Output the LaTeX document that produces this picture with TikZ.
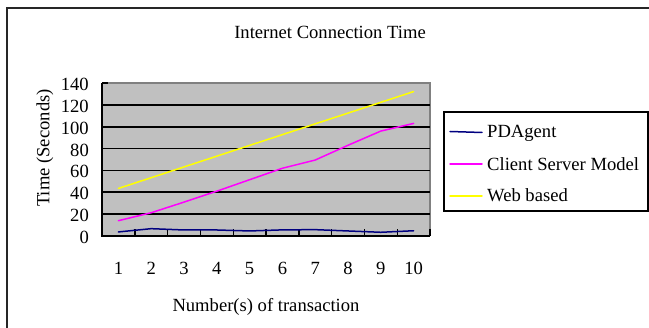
\documentclass[tikz,border=0pt]{standalone}
\usepackage{fontspec}
\setmainfont{Liberation Serif}
\definecolor{plotgray}{RGB}{192,192,192}
\definecolor{bordergray}{RGB}{128,128,128}
\definecolor{pdanavy}{RGB}{0,0,128}
\definecolor{csmagenta}{RGB}{255,0,255}
\definecolor{webyellow}{RGB}{255,255,0}
\begin{document}
\begin{tikzpicture}[x=1pt,y=-1pt,
  font=\fontsize{18.6}{20}\selectfont,
  series/.style={line width=1.5pt, line join=round, line cap=round},
  gridline/.style={line width=1.6pt, black},
  axisline/.style={line width=2pt, black},
  tickmark/.style={line width=1.4pt, black},
  lbl/.style={inner sep=0pt}]
\useasboundingbox (0,0) rectangle (649,328);
\fill[white] (0,0) rectangle (649,328);
% chart frame: only its left and upper sides fall inside the page
\coordinate (frameBL) at (7,328);
\coordinate (frameTL) at (7,8);
\coordinate (frameTR) at (649,8);
\draw[line width=1.6pt, black!85] (frameBL) -- (frameTL) -- (frameTR);

% title
\node[lbl, anchor=base] (title) at (330,39) {Internet Connection Time};

% plot area
\fill[plotgray] (102,83) rectangle (430,236);
\draw[line width=1.3pt, bordergray] (102,83) -- (430,83) -- (430,236);
\foreach \v in {20,40,...,120}
  \draw[gridline] (102,{236-1.0929*\v}) -- (430,{236-1.0929*\v});
% y ticks and labels
\foreach \v in {0,20,...,140}{
  \draw[tickmark] (102,{236-1.0929*\v}) -- (108,{236-1.0929*\v});
  \node[lbl, anchor=base east] (ylab\v) at (89,{243.5-1.0929*\v}) {\v};
}
% x ticks and labels
\foreach \k in {1,...,10}{
  \draw[tickmark] ({102+32.8*\k},236) -- ({102+32.8*\k},229);
  \node[lbl, anchor=base] (xlab\k) at ({102+32.8*(\k-0.5)},275) {\k};
}
\draw[axisline] (102,83) -- (102,236) -- (430,236);

% axis titles
\node[lbl, rotate=90] (ytitle) at (45,148) {Time (Seconds)};
\node[lbl, anchor=base] (xtitle) at (266,311.5) {Number(s) of transaction};

% data series
\begin{scope}[shift={(102,236)}, x=32.8pt, y=1.0929pt]
  \draw[series, webyellow] plot coordinates {(0.5,43.5) (1.5,53.35) (2.5,63.2) (3.5,73.05) (4.5,82.9) (5.5,92.75) (6.5,102.6) (7.5,112.45) (8.5,122.3) (9.5,132.15)};
  \draw[series, csmagenta] plot coordinates {(0.5,14) (1.5,21.3) (2.5,31) (3.5,41) (4.5,51.5) (5.5,62) (6.5,69.5) (7.5,83) (8.5,96) (9.5,103)};
  \draw[series, pdanavy] plot coordinates {(0.5,3.7) (1.5,6.7) (2.5,5.5) (3.5,5.5) (4.5,4.6) (5.5,5.6) (6.5,5.8) (7.5,4.6) (8.5,3.4) (9.5,4.8)};
\end{scope}

% legend
\draw[line width=1.3pt, black] (444,112) rectangle (648,211);
\coordinate (lgA1) at (450,131.5); \coordinate (lgA2) at (482,132.5);
\coordinate (lgB1) at (450,164);   \coordinate (lgB2) at (482,164);
\coordinate (lgC1) at (450,196);   \coordinate (lgC2) at (482,196);
\draw[series, pdanavy] (lgA1) -- (lgA2);
\draw[series, csmagenta] (lgB1) -- (lgB2);
\draw[series, webyellow] (lgC1) -- (lgC2);
\node[lbl, anchor=base west] (legA) at (487,138) {PDAgent};
\node[lbl, anchor=base west] (legB) at (487,171) {Client Server Model};
\node[lbl, anchor=base west] (legC) at (487,202) {Web based};
\end{tikzpicture}
\end{document}
